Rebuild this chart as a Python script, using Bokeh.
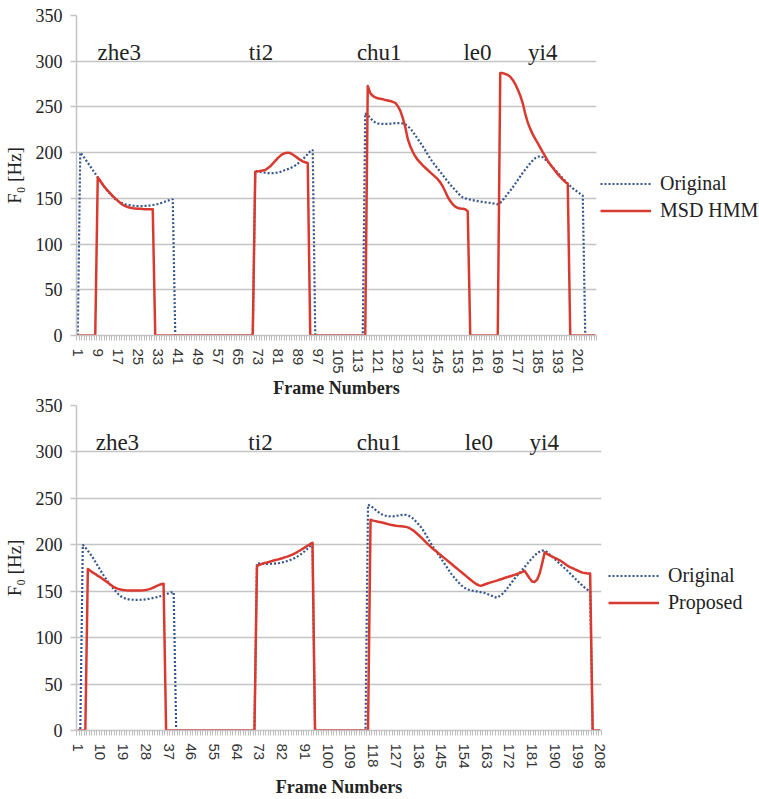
from bokeh.plotting import figure
from bokeh.models import (Range1d, FixedTicker, ColumnDataSource, Legend, LegendItem)
from bokeh.layouts import column, row
from bokeh.core.properties import value
from bokeh.embed import file_html
from bokeh.resources import INLINE

# ---------------------------------------------------------------- data
n_frames = 208
frames = list(range(1, n_frames + 1))

syllables = ["zhe3", "ti2", "chu1", "le0", "yi4"]
top_syll_frame = [17.6, 74.3, 121.6, 160.9, 187.0]
bottom_syll_frame = [16.7, 73.4, 120.4, 159.9, 185.8]
syll_f0 = [310, 310, 310, 310, 310]

top_tick_labels = [1, 9, 17, 25, 33, 41, 49, 57, 65, 73, 81, 89, 97, 105, 113,
                   121, 129, 137, 145, 153, 161, 169, 177, 185, 193, 201]
bottom_tick_labels = [1, 10, 19, 28, 37, 46, 55, 64, 73, 82, 91, 100, 109, 118,
                      127, 136, 145, 154, 163, 172, 181, 190, 199, 208]
y_ticks = [0, 50, 100, 150, 200, 250, 300, 350]

# F0 contour of the natural recording, upper panel (frames 1..208)
orig_top = (
    [0]
    + [200, 197, 193, 189, 185, 181, 177, 173, 169, 165,
       161, 158, 155, 152, 149, 147, 145.5, 144.5, 143.5, 143,
       142.5, 142, 141.8, 141.5, 141.5, 141.6, 141.8, 142, 142.3, 142.7,
       143.2, 143.8, 144.5, 145.5, 146.5, 147.5, 148.5, 149]
    + [0] * 32
    + [180, 179.5, 179, 178.5, 178, 177.7, 177.5, 177.5, 177.8, 178.3,
       179, 180, 181, 182, 183, 184.5, 186, 188, 190, 192.5,
       195.5, 198.5, 201.5, 203]
    + [0] * 20
    + [243, 241, 238, 235, 233, 232, 231.5, 231.5, 231.5, 231.5,
       231.7, 232, 232.2, 232.3, 232.3, 232, 231, 229, 226.5, 223,
       219, 215, 211, 207, 202.5, 198, 193.5, 189.5, 186, 182.5,
       179, 175.5, 172, 168.5, 165, 162, 159, 156, 153, 151,
       150, 149.3, 148.6, 148, 147.5, 147, 146.5, 146, 145.7, 145.3,
       145, 144.5, 144, 143.5, 145, 148, 151.5, 155, 158.5, 162,
       166, 170, 174, 178, 181.5, 185, 188.5, 191.5, 194, 195.5,
       196, 195, 192.5, 190, 187, 184, 181, 178, 175, 172,
       169, 166, 163.5, 161, 159, 157, 155, 153]
    + [0] * 5
)

# F0 generated by the MSD HMM system
msd_hmm = (
    [0] * 8
    + [173, 169, 165, 161.5, 158.5, 155.5, 152.5, 150, 147.5, 145,
       143, 141.5, 140.5, 139.8, 139.3, 139, 138.7, 138.5, 138.3, 138.2,
       138.1, 138, 138]
    + [0] * 40
    + [179, 179.5, 180, 180.5, 181, 183, 185, 188, 191, 194,
       196.5, 198.5, 199.5, 200, 199.5, 198, 196, 194, 192, 190.5,
       189.5, 188.5]
    + [0] * 23
    + [273, 265, 262, 260.5, 259.5, 259, 258.5, 257.5, 257, 256.5,
       255.5, 254.5, 251, 246, 238, 228, 215, 207, 201, 196,
       192, 189, 186, 183.5, 181, 178.5, 176, 173.5, 171, 167.5,
       163, 157.5, 151.5, 147, 143.5, 141, 139.5, 139, 138.7, 138, 136]
    + [0] * 12
    + [287, 287, 286, 285, 283, 279.5, 275, 269, 262.5, 254,
       242.5, 233, 226, 220, 215, 210.5, 205.5, 200.5, 196, 191,
       187, 183.5, 180, 176.5, 173.5, 170.5, 168, 166]
    + [0] * 11
)

# F0 contour of the natural recording, lower panel
orig_bottom = (
    [0] * 2
    + [200, 197, 193.5, 190, 186, 181.5, 177, 172.5, 168, 164,
       160, 156.5, 153, 150, 147, 144.5, 143, 142, 141.3, 141,
       140.8, 140.7, 140.7, 140.8, 141, 141.3, 141.7, 142.2, 142.8, 143.4,
       144, 144.8, 145.7, 146.7, 147.8, 148.8, 149]
    + [0] * 32
    + [180, 180, 179.7, 179.5, 179.5, 179.5, 179.6, 179.8, 180, 180.4,
       181, 181.8, 182.6, 183.5, 184.5, 185.8, 187.3, 189, 191, 193.3,
       195.8, 198.5, 201.5]
    + [0] * 21
    + [243, 242, 240, 237.5, 235.5, 233.5, 232, 231.3, 230.8, 230.5,
       230.6, 231, 231.5, 232, 232.3, 232.2, 231.5, 230, 228, 225,
       222, 219, 215, 210.5, 205.8, 201, 196.8, 192.8, 188.8, 185,
       180.9, 176.8, 172.7, 168.7, 165.3, 162, 159, 156.2, 154, 152.5,
       151.5, 150.8, 150.2, 149.8, 149.3, 148.8, 148.3, 147.3, 146.2, 145,
       143.8, 143, 144.5, 146.5, 149, 152.5, 156, 159.7, 163.3, 166.5,
       169.7, 172.8, 176, 179.2, 182.4, 185.5, 188.5, 190.8, 192.6, 193.8,
       193.7, 192, 189.5, 187, 184.5, 182, 179.5, 177, 174.5, 172,
       169.3, 166.5, 163.8, 161, 158.4, 156, 153.5, 151.5, 150]
    + [0] * 4
)

# F0 generated by the proposed system
proposed = (
    [0] * 4
    + [174, 172, 170, 168.5, 166.5, 165, 163, 161, 159, 157,
       155, 153.5, 152.5, 151.8, 151.3, 151, 150.8, 150.7, 150.7, 150.7,
       150.8, 150.9, 151, 151.4, 152, 152.8, 154, 155.3, 156.5, 157.5, 158]
    + [0] * 36
    + [177, 178.5, 179.5, 180.3, 181, 181.8, 182.5, 183.3, 184, 184.7,
       185.5, 186.4, 187.3, 188.3, 189.5, 190.8, 192.2, 193.8, 195.5, 197.2,
       198.9, 200.6, 202]
    + [0] * 22
    + [227, 226, 225.5, 224.8, 224.3, 223.7, 223, 222.2, 221.5, 221,
       220.5, 220.2, 220, 219.8, 219.3, 218.5, 217, 215.3, 213, 210.5,
       208, 205.3, 202.6, 200, 197.4, 195, 193, 190.7, 188.5, 186.2,
       184, 181.7, 179.5, 177.2, 175, 172.7, 170.5, 168.2, 166, 163.7,
       161.5, 159.5, 157.5, 156.2, 156, 157, 158, 159, 159.8, 160.6,
       161.4, 162.3, 163.2, 164.2, 165, 165.8, 166.7, 167.6, 168.5, 169.5,
       170.5, 172, 168, 164, 160.5, 160, 162.5, 169, 180, 192,
       190, 188.5, 187.2, 186, 184.5, 183.3, 181.5, 179.5, 177.5, 176,
       174.8, 173.5, 172.3, 171, 170, 169.5, 169.2, 169]
    + [0] * 4
)

# ---------------------------------------------------------------- style
SERIF = "Liberation Serif"
TICK_FONT = "Liberation Sans"
RED = "#d93a2f"
BLUE = "#33558c"
GRID = "#c4c4c4"
ORIG_STYLE = dict(line_color=BLUE, line_width=2.2, line_dash="2 2")
SYNTH_STYLE = dict(line_color=RED, line_width=2.5, line_join="round")


def make_panel(orig, synth, tick_labels, syll_frame, left, right, top,
               bottom, frame_w, frame_h, label_gap):
    p = figure(width=left + frame_w + right, height=top + frame_h + bottom,
               x_range=Range1d(0.5, n_frames + 0.5), y_range=Range1d(0, 350),
               output_backend="svg", toolbar_location=None,
               min_border_left=left, min_border_right=right,
               min_border_top=top, min_border_bottom=bottom)
    p.outline_line_color = None
    p.background_fill_color = "white"
    p.border_fill_color = None

    # horizontal grid only
    p.xgrid.grid_line_color = None
    p.ygrid.grid_line_color = GRID
    p.ygrid.grid_line_width = 1.5
    p.ygrid.ticker = FixedTicker(ticks=y_ticks)

    # y axis
    ya = p.yaxis[0]
    ya.ticker = FixedTicker(ticks=y_ticks)
    ya.axis_line_color = GRID
    ya.axis_line_width = 1.5
    ya.major_tick_line_color = GRID
    ya.major_tick_line_width = 1.5
    ya.major_tick_out = 6
    ya.major_tick_in = 0
    ya.minor_tick_line_color = None
    ya.major_label_text_font = SERIF
    ya.major_label_text_font_size = "18px"
    ya.major_label_text_color = "#222222"
    ya.major_label_standoff = 8
    ya.axis_label = "F\u2080 [Hz]"
    ya.axis_label_text_font = SERIF
    ya.axis_label_text_font_size = "19px"
    ya.axis_label_text_font_style = "normal"
    ya.axis_label_text_color = "#222222"
    ya.axis_label_standoff = 8

    # category-style x axis: a label every few frames, a notch at every frame
    xa = p.xaxis[0]
    xa.ticker = FixedTicker(ticks=tick_labels,
                            minor_ticks=[f - 0.5 for f in frames] + [n_frames + 0.5])
    xa.axis_line_color = GRID
    xa.axis_line_width = 1.5
    xa.major_tick_line_color = None
    xa.major_tick_out = 0
    xa.major_tick_in = 0
    xa.minor_tick_line_color = "#bdbdbd"
    xa.minor_tick_line_width = 1
    xa.minor_tick_out = 5
    xa.minor_tick_in = 0
    xa.major_label_orientation = "vertical"
    xa.major_label_text_font = TICK_FONT
    xa.major_label_text_font_size = "15px"
    xa.major_label_text_color = "#333333"
    xa.major_label_standoff = 8
    xa.axis_label = "Frame Numbers"
    xa.axis_label_text_font = SERIF
    xa.axis_label_text_font_size = "18px"
    xa.axis_label_text_font_style = "bold"
    xa.axis_label_text_color = "#222222"
    xa.axis_label_standoff = label_gap

    p.line(frames, orig, **ORIG_STYLE)
    p.line(frames, synth, **SYNTH_STYLE)

    src = ColumnDataSource(dict(x=syll_frame, y=syll_f0, text=syllables))
    p.text(x="x", y="y", text="text", source=src,
           text_font=value(SERIF), text_font_size=value("23px"),
           text_align="center", text_baseline="alphabetic",
           text_color="#222222")
    return p


def make_key(orig, synth, synth_name, width, height, legend_xy):
    # narrow companion canvas holding the series key to the right of a panel;
    # its frame lines up with the panel's frame in the row, the key is placed
    # from the frame's bottom-left corner, and the ranges keep the series
    # themselves out of view
    k = figure(width=width, height=height, output_backend="svg",
               toolbar_location=None, x_axis_location=None,
               y_axis_location=None, min_border=0,
               x_range=Range1d(-20, -10), y_range=Range1d(0, 350))
    k.outline_line_color = None
    k.grid.grid_line_color = None
    k.border_fill_color = None
    k.background_fill_color = None
    r_orig = k.line(frames, orig, **ORIG_STYLE)
    r_synth = k.line(frames, synth, **SYNTH_STYLE)
    legend = Legend(items=[LegendItem(label="Original", renderers=[r_orig]),
                           LegendItem(label=synth_name, renderers=[r_synth])],
                    location=legend_xy, orientation="vertical",
                    label_text_font=SERIF, label_text_font_size="20px",
                    label_text_color="#222222",
                    glyph_width=51, glyph_height=23, label_height=23,
                    label_standoff=9, spacing=4, padding=0, margin=0,
                    border_line_color=None, background_fill_alpha=0)
    k.add_layout(legend, "center")
    return k


# upper panel: frame 72..596 x 15..335, canvas 0..400
p_top = make_panel(orig_top, msd_hmm, top_tick_labels, top_syll_frame,
                   left=72, right=1, top=15, bottom=65,
                   frame_w=524, frame_h=320, label_gap=1)
k_top = make_key(orig_top, msd_hmm, "MSD HMM", width=759 - 597, height=400,
                 legend_xy=(3, 113))

# lower panel: frame 76..601 x 405..730, canvas 390..799 (tucked 10 px up
# under the upper panel's axis title)
p_bottom = make_panel(orig_bottom, proposed, bottom_tick_labels,
                      bottom_syll_frame, left=76, right=7, top=15, bottom=69,
                      frame_w=525, frame_h=325, label_gap=5)
k_bottom = make_key(orig_bottom, proposed, "Proposed", width=759 - 608,
                    height=409, legend_xy=(0, 116))

top_row = row(p_top, k_top, spacing=0)
bottom_row = row(p_bottom, k_bottom, spacing=0, margin=(-10, 0, 0, 0))
layout = column(top_row, bottom_row, spacing=0)
open("out.html", "w").write(file_html(layout, INLINE))
